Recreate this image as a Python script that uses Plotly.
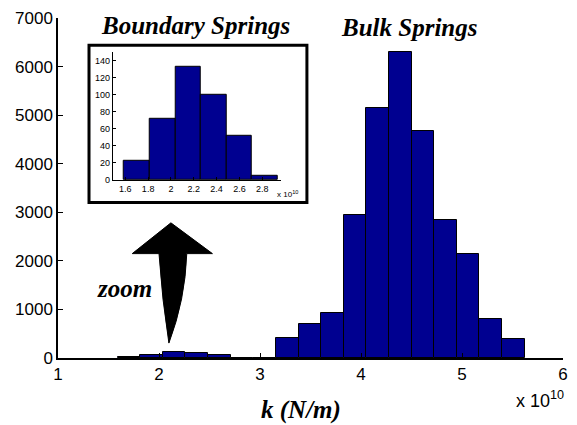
import plotly.graph_objects as go

# ---- data ----
bin_start = 1.59          # left edge of first bin (x 1e10 N/m)
bin_width = 0.2239
counts = [23, 72, 132, 100, 52, 5, 0, 415, 690, 927, 2941, 5143, 6290, 4666, 2851, 2143, 812, 383]
n_boundary = 6            # first 6 bins are boundary springs
main_yticks = [0, 1000, 2000, 3000, 4000, 5000, 6000, 7000]
main_xticks = [1, 2, 3, 4, 5, 6]
inset_xticks = [1.6, 1.8, 2.0, 2.2, 2.4, 2.6, 2.8]
inset_xticklabels = ["1.6", "1.8", "2", "2.2", "2.4", "2.6", "2.8"]
inset_yticks = [0, 20, 40, 60, 80, 100, 120, 140]

centers = [bin_start + bin_width * (i + 0.5) for i in range(len(counts))]

BAR = "#000090"
fig = go.Figure()

# main histogram
fig.add_trace(go.Bar(x=centers, y=counts, width=bin_width,
                     marker=dict(color=BAR, line=dict(color="black", width=1)),
                     xaxis="x", yaxis="y", showlegend=False))

# inset histogram (boundary springs)
fig.add_trace(go.Bar(x=centers[:n_boundary], y=counts[:n_boundary], width=bin_width,
                     marker=dict(color=BAR, line=dict(color="black", width=1)),
                     xaxis="x2", yaxis="y2", showlegend=False))

tickfont = dict(family="Liberation Sans, Arial", size=17, color="black")
small = dict(family="Liberation Sans, Arial", size=9, color="black")
serif = dict(family="Liberation Serif, Times New Roman", size=25, color="black")

fig.update_layout(
    width=577, height=425,
    margin=dict(l=58, r=9, t=16, b=67),
    paper_bgcolor="white", plot_bgcolor="white",
    bargap=0,
    xaxis=dict(range=[1, 6], tickvals=main_xticks, ticks="inside", ticklen=5,
               showline=True, linecolor="black", linewidth=1.5, showgrid=False,
               zeroline=False, tickfont=tickfont, tickcolor="black"),
    yaxis=dict(range=[0, 7000], tickvals=main_yticks, ticks="inside", ticklen=5,
               showline=True, linecolor="black", linewidth=1.5, showgrid=False,
               zeroline=False, tickfont=tickfont, tickcolor="black"),
    xaxis2=dict(domain=[0.1084, 0.4406], anchor="y2", range=[1.49, 2.96],
                tickvals=inset_xticks, ticktext=inset_xticklabels,
                ticks="inside", ticklen=3, showline=True, linecolor="black",
                linewidth=1, showgrid=False, zeroline=False, tickfont=small,
                tickcolor="black"),
    yaxis2=dict(domain=[0.5234, 0.9006], anchor="x2", range=[0, 150],
                tickvals=inset_yticks, ticks="inside", ticklen=3, showline=True,
                linecolor="black", linewidth=1, showgrid=False, zeroline=False,
                tickfont=small, tickcolor="black"),
)

# inset frame
fig.add_shape(type="rect", xref="paper", yref="paper",
              x0=0.0614, x1=0.4929, y0=0.457, y1=0.920,
              line=dict(color="black", width=3), fillcolor="white", layer="below")

# zoom arrow (decoration), drawn in main data coordinates
arrow = ("M 2.098 307 "
         "Q 2.03 1200 2.0 2149 "
         "L 1.735 2149 L 2.118 2783 L 2.529 2149 L 2.275 2149 "
         "Q 2.26 1200 2.098 307 Z")
fig.add_shape(type="path", xref="x", yref="y", path=arrow,
              fillcolor="black", line=dict(color="black", width=1))

ann = [
    dict(text="<b><i>Boundary Springs</i></b>", x=(197 - 58) / 510, y=(358 - 24) / 342, font=serif),
    dict(text="<b><i>Bulk Springs</i></b>", x=(413 - 58) / 510, y=(358 - 26) / 342, font=serif),
    dict(text="<b><i>zoom</i></b>", x=(125 - 58) / 510, y=(358 - 288) / 342, font=serif),
    dict(text="<b><i>k (N/m)</i></b>", x=(303 - 58) / 510, y=(358 - 410) / 342, font=serif),
    dict(text="x 10<sup>10</sup>", x=(545 - 58) / 510, y=(358 - 400) / 342,
         font=dict(family="Liberation Sans, Arial", size=18, color="black")),
    dict(text="x 10<sup>10</sup>", x=(290 - 58) / 510, y=(358 - 193) / 342,
         font=dict(family="Liberation Sans, Arial", size=8, color="black")),
]
for a in ann:
    fig.add_annotation(xref="paper", yref="paper", showarrow=False,
                       xanchor="center", yanchor="middle", **a)

fig.write_html("out.html")
